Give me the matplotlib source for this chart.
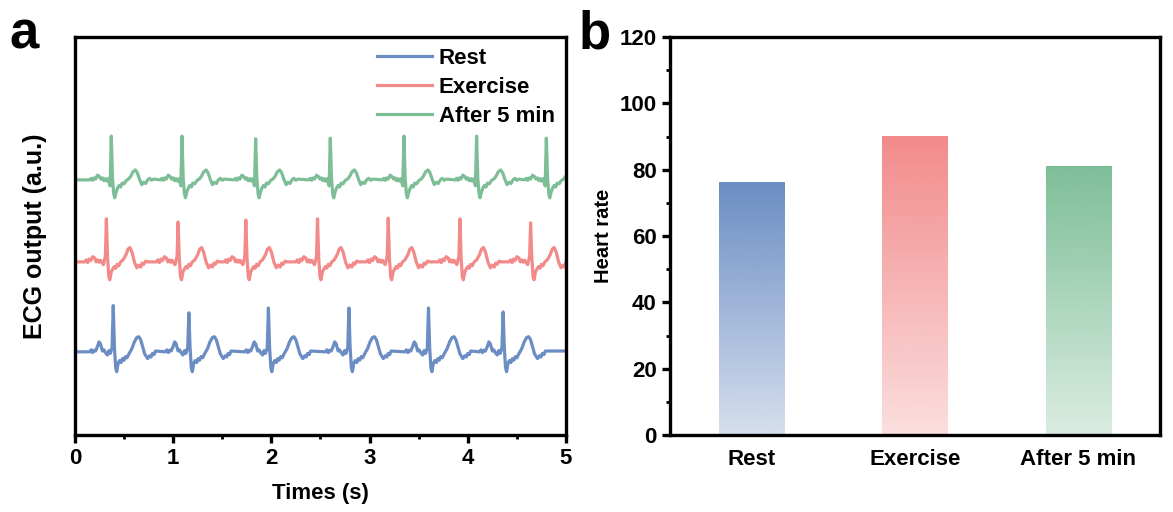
import numpy as np
import matplotlib
matplotlib.use("Agg")
from matplotlib import pyplot as plt
from matplotlib.ticker import MultipleLocator
from matplotlib.colors import to_rgb

plt.rcParams['font.family'] = ['Liberation Sans', 'DejaVu Sans']
plt.rcParams['font.weight'] = 'bold'

# ECG panel: R-peak times (s), R amplitudes, baseline offsets (a.u.)
rest_beats = [0.39, 1.16, 1.97, 2.79, 3.60, 4.36]
rest_r = [1.16, 0.98, 1.10, 1.10, 1.10, 1.00]
exercise_beats = [0.32, 1.05, 1.74, 2.47, 3.19, 3.92, 4.64]
exercise_r = [1.08, 1.00, 1.05, 1.08, 1.10, 1.08, 0.98]
after_beats = [0.37, 1.09, 1.84, 2.60, 3.35, 4.09, 4.80]
after_r = [1.10, 1.10, 1.03, 1.05, 1.10, 1.10, 1.05]
baselines = {'Rest': 2.09, 'Exercise': 4.35, 'After 5 min': 6.41}

# one beat shape per series: time offset from R peak (s), amplitude (a.u.); None marks the R peak
rest_dt = [-0.24, -0.225, -0.21, -0.195, -0.18, -0.16, -0.145, -0.13, -0.11, -0.095, -0.08,
           -0.06, -0.045, -0.03, -0.012, 0.0,
           0.012, 0.025, 0.035, 0.05, 0.065, 0.08, 0.095, 0.11, 0.125, 0.14, 0.16,
           0.19, 0.215, 0.24, 0.26, 0.28, 0.30, 0.32, 0.35, 0.37, 0.385, 0.40, 0.415, 0.43]
rest_amp = [0.0, 0.05, -0.02, 0.04, 0.02, 0.14, 0.25, 0.2, 0.02, 0.05, -0.02,
            -0.08, 0.03, -0.04, 0.1, None,
            0.1, -0.4, -0.5, -0.28, -0.22, -0.27, -0.17, -0.21, -0.12, -0.15, -0.05,
            0.08, 0.25, 0.36, 0.38, 0.3, 0.12, -0.05, -0.17, -0.1, -0.13, -0.04, -0.07, 0.02]
exercise_dt = [-0.22, -0.205, -0.19, -0.175, -0.16, -0.14, -0.12, -0.105, -0.09, -0.075,
               -0.06, -0.045, -0.03, -0.01, 0.0,
               0.012, 0.025, 0.035, 0.05, 0.065, 0.08, 0.095, 0.11, 0.125, 0.145, 0.17,
               0.20, 0.22, 0.24, 0.26, 0.285, 0.31, 0.33, 0.35, 0.365, 0.38, 0.40, 0.42]
exercise_amp = [0.0, 0.05, -0.02, 0.07, 0.03, 0.13, 0.1, 0.0, 0.05, -0.01,
                0.04, -0.02, -0.07, 0.15, None,
                0.1, -0.38, -0.45, -0.25, -0.18, -0.12, -0.16, -0.06, -0.1, 0.0, 0.05,
                0.18, 0.32, 0.36, 0.25, 0.0, -0.15, -0.08, -0.13, -0.03, -0.06, 0.02, 0.0]
after_dt = [-0.22, -0.205, -0.19, -0.175, -0.16, -0.14, -0.12, -0.105, -0.09, -0.075,
            -0.06, -0.045, -0.03, -0.012, 0.0,
            0.012, 0.025, 0.035, 0.05, 0.065, 0.08, 0.095, 0.11, 0.13, 0.15, 0.18,
            0.20, 0.22, 0.245, 0.265, 0.29, 0.31, 0.33, 0.35, 0.37, 0.39, 0.41, 0.43]
after_amp = [0.0, 0.04, -0.01, 0.05, 0.02, 0.12, 0.08, 0.02, 0.05, -0.02,
             0.03, -0.03, 0.03, -0.15, None,
             0.05, -0.35, -0.45, -0.3, -0.2, -0.14, -0.18, -0.08, -0.1, -0.02, 0.03,
             0.1, 0.2, 0.25, 0.18, 0.0, -0.12, -0.06, -0.09, 0.0, 0.04, -0.01, 0.02]

# Heart-rate panel
categories = ['Rest', 'Exercise', 'After 5 min']
heart_rate = [76, 90, 81]

colors = {'Rest': '#6B8DC3', 'Exercise': '#F28A8A', 'After 5 min': '#7DBE97'}


def build_trace(beats, r_amps, dt, amp, base):
    t, y = [0.0], [base]
    for bt, r in zip(beats, r_amps):
        for d, a in zip(dt, amp):
            t.append(bt + d)
            y.append(base + (r if a is None else a))
    t.append(5.0)
    y.append(y[-1])
    t, y = np.array(t), np.array(y)
    keep = (t >= 0) & (t <= 5)
    return t[keep], y[keep]


fig = plt.figure(figsize=(11.73, 5.12), dpi=100)
ax1 = fig.add_axes([0.0639, 0.1504, 0.4186, 0.7773])
ax2 = fig.add_axes([0.5712, 0.1504, 0.4177, 0.7773])

series = [('Rest', rest_beats, rest_r, rest_dt, rest_amp),
          ('Exercise', exercise_beats, exercise_r, exercise_dt, exercise_amp),
          ('After 5 min', after_beats, after_r, after_dt, after_amp)]
for name, beats, rr, dt, amp in series:
    t, y = build_trace(beats, rr, dt, amp, baselines[name])
    ax1.plot(t, y, color=colors[name], lw=2.3, label=name, solid_joinstyle='round')

ax1.set_xlim(0, 5)
ax1.set_ylim(0, 10)
ax1.set_yticks([])
ax1.xaxis.set_major_locator(MultipleLocator(1))
ax1.xaxis.set_minor_locator(MultipleLocator(0.5))
ax1.set_xlabel('Times (s)', fontsize=16, fontweight='bold', labelpad=10)
ax1.set_ylabel('ECG output (a.u.)', fontsize=18, fontweight='bold', labelpad=20)
leg = ax1.legend(loc='upper right', frameon=False, fontsize=16, handlelength=2.5,
                 handletextpad=0.3, labelspacing=0.36, borderaxespad=0.1)
for line in leg.get_lines():
    line.set_linewidth(2.3)

# gradient bars
bars = ax2.bar(range(len(categories)), heart_rate, width=0.4, color='none', edgecolor='none')
for rect, name in zip(bars, categories):
    rgb = to_rgb(colors[name])
    n = 256
    grad = np.ones((n, 1, 4))
    grad[:, 0, :3] = rgb
    grad[:, 0, 3] = np.linspace(1.0, 0.28, n)
    x0, w, h = rect.get_x(), rect.get_width(), rect.get_height()
    ax2.imshow(grad, extent=(x0, x0 + w, 0, h), aspect='auto', origin='upper', zorder=2)

ax2.set_xlim(-0.5, 2.5)
ax2.set_ylim(0, 120)
ax2.set_xticks(range(len(categories)))
ax2.set_xticklabels(categories)
ax2.yaxis.set_major_locator(MultipleLocator(20))
ax2.yaxis.set_minor_locator(MultipleLocator(10))
ax2.set_ylabel('Heart rate', fontsize=14.5, fontweight='bold', labelpad=5)

for ax in (ax1, ax2):
    for sp in ax.spines.values():
        sp.set_linewidth(2.4)
    ax.tick_params(which='major', direction='out', width=2.4, length=6, labelsize=16)
    ax.tick_params(which='minor', direction='out', width=2.0, length=3)
    for lab in ax.get_xticklabels() + ax.get_yticklabels():
        lab.set_fontweight('bold')
ax2.tick_params(axis='x', which='both', length=0, pad=10)

fig.text(0.008, 0.905, 'a', fontsize=38, fontweight='bold')
fig.text(0.493, 0.905, 'b', fontsize=38, fontweight='bold')

fig.savefig('out.png', dpi=100)
